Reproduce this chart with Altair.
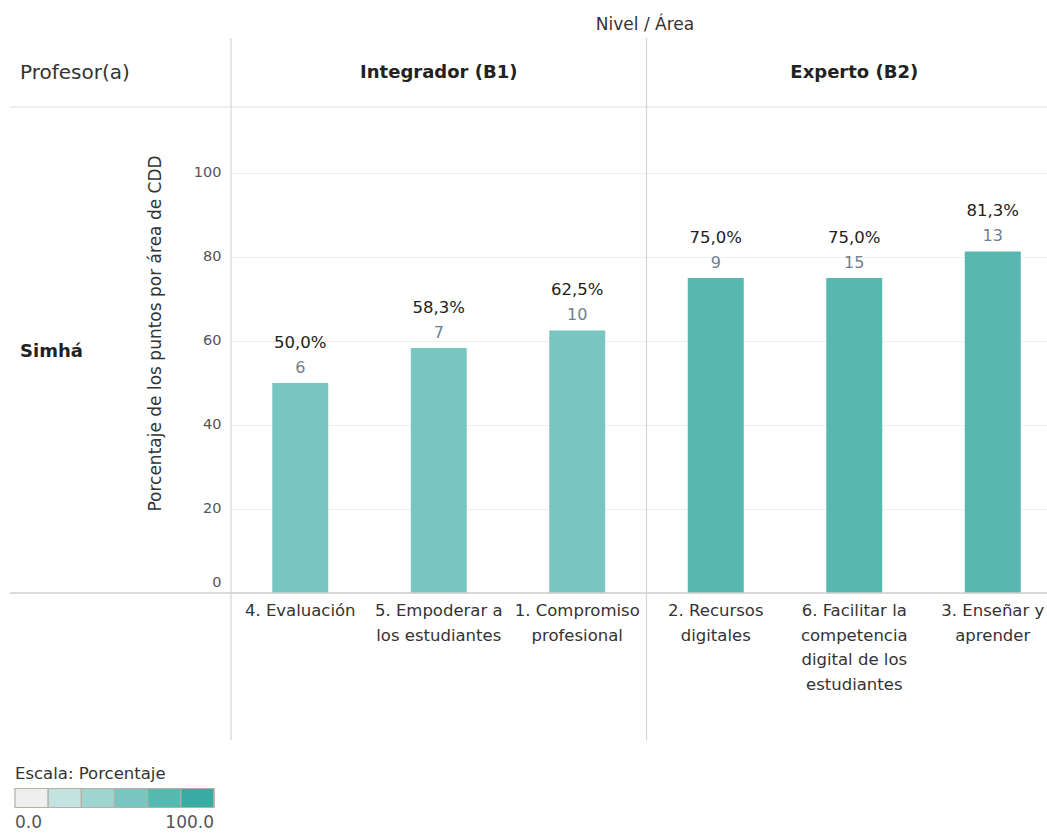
import altair as alt
import pandas as pd

# ---------------- data ----------------
areas = [
    "4. Evaluación",
    "5. Empoderar a los estudiantes",
    "1. Compromiso profesional",
    "2. Recursos digitales",
    "6. Facilitar la competencia digital de los estudiantes",
    "3. Enseñar y aprender",
]
area_labels = [
    "4. Evaluación",
    "5. Empoderar a\nlos estudiantes",
    "1. Compromiso\nprofesional",
    "2. Recursos\ndigitales",
    "6. Facilitar la\ncompetencia\ndigital de los\nestudiantes",
    "3. Enseñar y\naprender",
]
niveles = ["Integrador (B1)"] * 3 + ["Experto (B2)"] * 3
porcentajes = [50.0, 58.3, 62.5, 75.0, 75.0, 81.3]
puntos = [6, 7, 10, 9, 15, 13]
profesor = "Simhá"
nivel_headers = ["Integrador (B1)", "Experto (B2)"]
nivel_header_area = [areas[1], areas[4]]
scale_colors = ["#efefef", "#c4e2e0", "#9fd5d1", "#79c6c1", "#56b8b1", "#3aaba2"]
scale_domain = [0, 100]
y_ticks = [0, 20, 40, 60, 80, 100]

# boundaries of the stepped colour scale (for the legend blocks)
n_steps = len(scale_colors)
step_bounds = [round(scale_domain[0] + (scale_domain[1] - scale_domain[0]) * i / n_steps + 0.004, 2)
               for i in range(n_steps)] + [scale_domain[1]]
step_bounds[0] = scale_domain[0]

df = pd.DataFrame({
    "area": areas,
    "label": area_labels,
    "nivel": niveles,
    "pct": porcentajes,
    "n": puntos,
})
hdr = pd.DataFrame({"nivel": nivel_headers, "area": nivel_header_area})
one = pd.DataFrame({"k": [0]})

W, H = 816, 486
FONT = "DejaVu Sans"

xscale = alt.Scale(domain=areas, range=[0, 831], paddingInner=0.596, paddingOuter=0.298)
X = alt.X("area:N", scale=xscale, axis=None)
yscale = alt.Scale(domain=[0, 115.7], nice=False)

bars = alt.Chart(df).mark_bar().encode(
    x=X,
    y=alt.Y("pct:Q", scale=yscale,
            axis=alt.Axis(values=y_ticks, grid=True, gridColor="#efefef", domain=False,
                          ticks=False, labelPadding=10, labelFontSize=14.5, labelColor="#555555",
                          labelFlush=True, labelFlushOffset=-4, labelFont=FONT,
                          title="Porcentaje de los puntos por área de CDD", titleFontSize=17,
                          titleFontWeight="normal", titleColor="#333333", titleFont=FONT,
                          titleX=-76, titleY=226, titleBaseline="middle")),
    color=alt.Color("pct:Q",
                    scale=alt.Scale(type="quantize", domain=scale_domain, range=scale_colors),
                    legend=alt.Legend(type="gradient", orient="none", legendX=-216, legendY=659,
                                      direction="horizontal", title="Escala: Porcentaje",
                                      values=step_bounds,
                                      titleFontSize=16.5, titleFontWeight="normal", titleColor="#333333",
                                      titleFont=FONT, titlePadding=6,
                                      labelFontSize=17, labelColor="#555555", labelFont=FONT,
                                      labelOverlap=False, labelOffset=7,
                                      labelExpr="(datum.value <= 0 || datum.value >= 100) ? format(datum.value, '.1f') : ''",
                                      gradientLength=199, gradientThickness=19,
                                      gradientStrokeColor="#b5b0a4", gradientStrokeWidth=1.2)),
)

pct_text = alt.Chart(df).transform_calculate(
    txt="replace(format(datum.pct, '.1f'), '.', ',') + '%'"
).mark_text(dy=-40, fontSize=16.5, color="#222222", font=FONT).encode(
    x=X, y=alt.Y("pct:Q", scale=yscale), text="txt:N"
)
n_text = alt.Chart(df).mark_text(dy=-15, fontSize=16, color="#71808f", font=FONT).encode(
    x=X, y=alt.Y("pct:Q", scale=yscale), text="n:Q"
)
x_labels = alt.Chart(df).mark_text(baseline="top", lineBreak="\n", lineHeight=24.5,
                                   fontSize=16.5, color="#333333", font=FONT).encode(
    x=X, y=alt.value(H + 10), text="label:N"
)
headers = alt.Chart(hdr).mark_text(fontSize=18, fontWeight="bold", color="#222222", font=FONT).encode(
    x=X, y=alt.value(-34), text="nivel:N"
)

def fixed_text(txt, x, y, **kw):
    return alt.Chart(one).mark_text(font=FONT, **kw).encode(
        x=alt.value(x), y=alt.value(y), text=alt.value(txt))

t_prof = fixed_text("Profesor(a)", -211, -34, align="left", fontSize=20, color="#333333")
t_simha = fixed_text(profesor, -211, 245, align="left", fontSize=18, fontWeight="bold", color="#222222")
t_nivel = fixed_text("Nivel  /  Área", 414, -82, fontSize=17, color="#333333")

def hrule(y, color, sw):
    return alt.Chart(one).mark_rule(color=color, strokeWidth=sw).encode(
        x=alt.value(-221), x2=alt.value(W), y=alt.value(y))

def vrule(x):
    return alt.Chart(one).mark_rule(color="#d6d6d6", strokeWidth=1.2).encode(
        x=alt.value(x), y=alt.value(-69), y2=alt.value(633))

chart = alt.layer(
    hrule(0, "#dddddd", 1.2),
    vrule(0), vrule(415.5),
    bars, pct_text, n_text, x_labels, headers,
    hrule(H, "#cfcfcf", 1.6),
    t_prof, t_simha, t_nivel,
).properties(
    width=W, height=H,
    padding={"left": 231, "top": 107, "right": 0, "bottom": 241},
    autosize=alt.AutoSizeParams(type="none"),
).configure(font=FONT).configure_view(stroke=None)

chart.save("out.html", embed_options={"renderer": "svg", "actions": False})
